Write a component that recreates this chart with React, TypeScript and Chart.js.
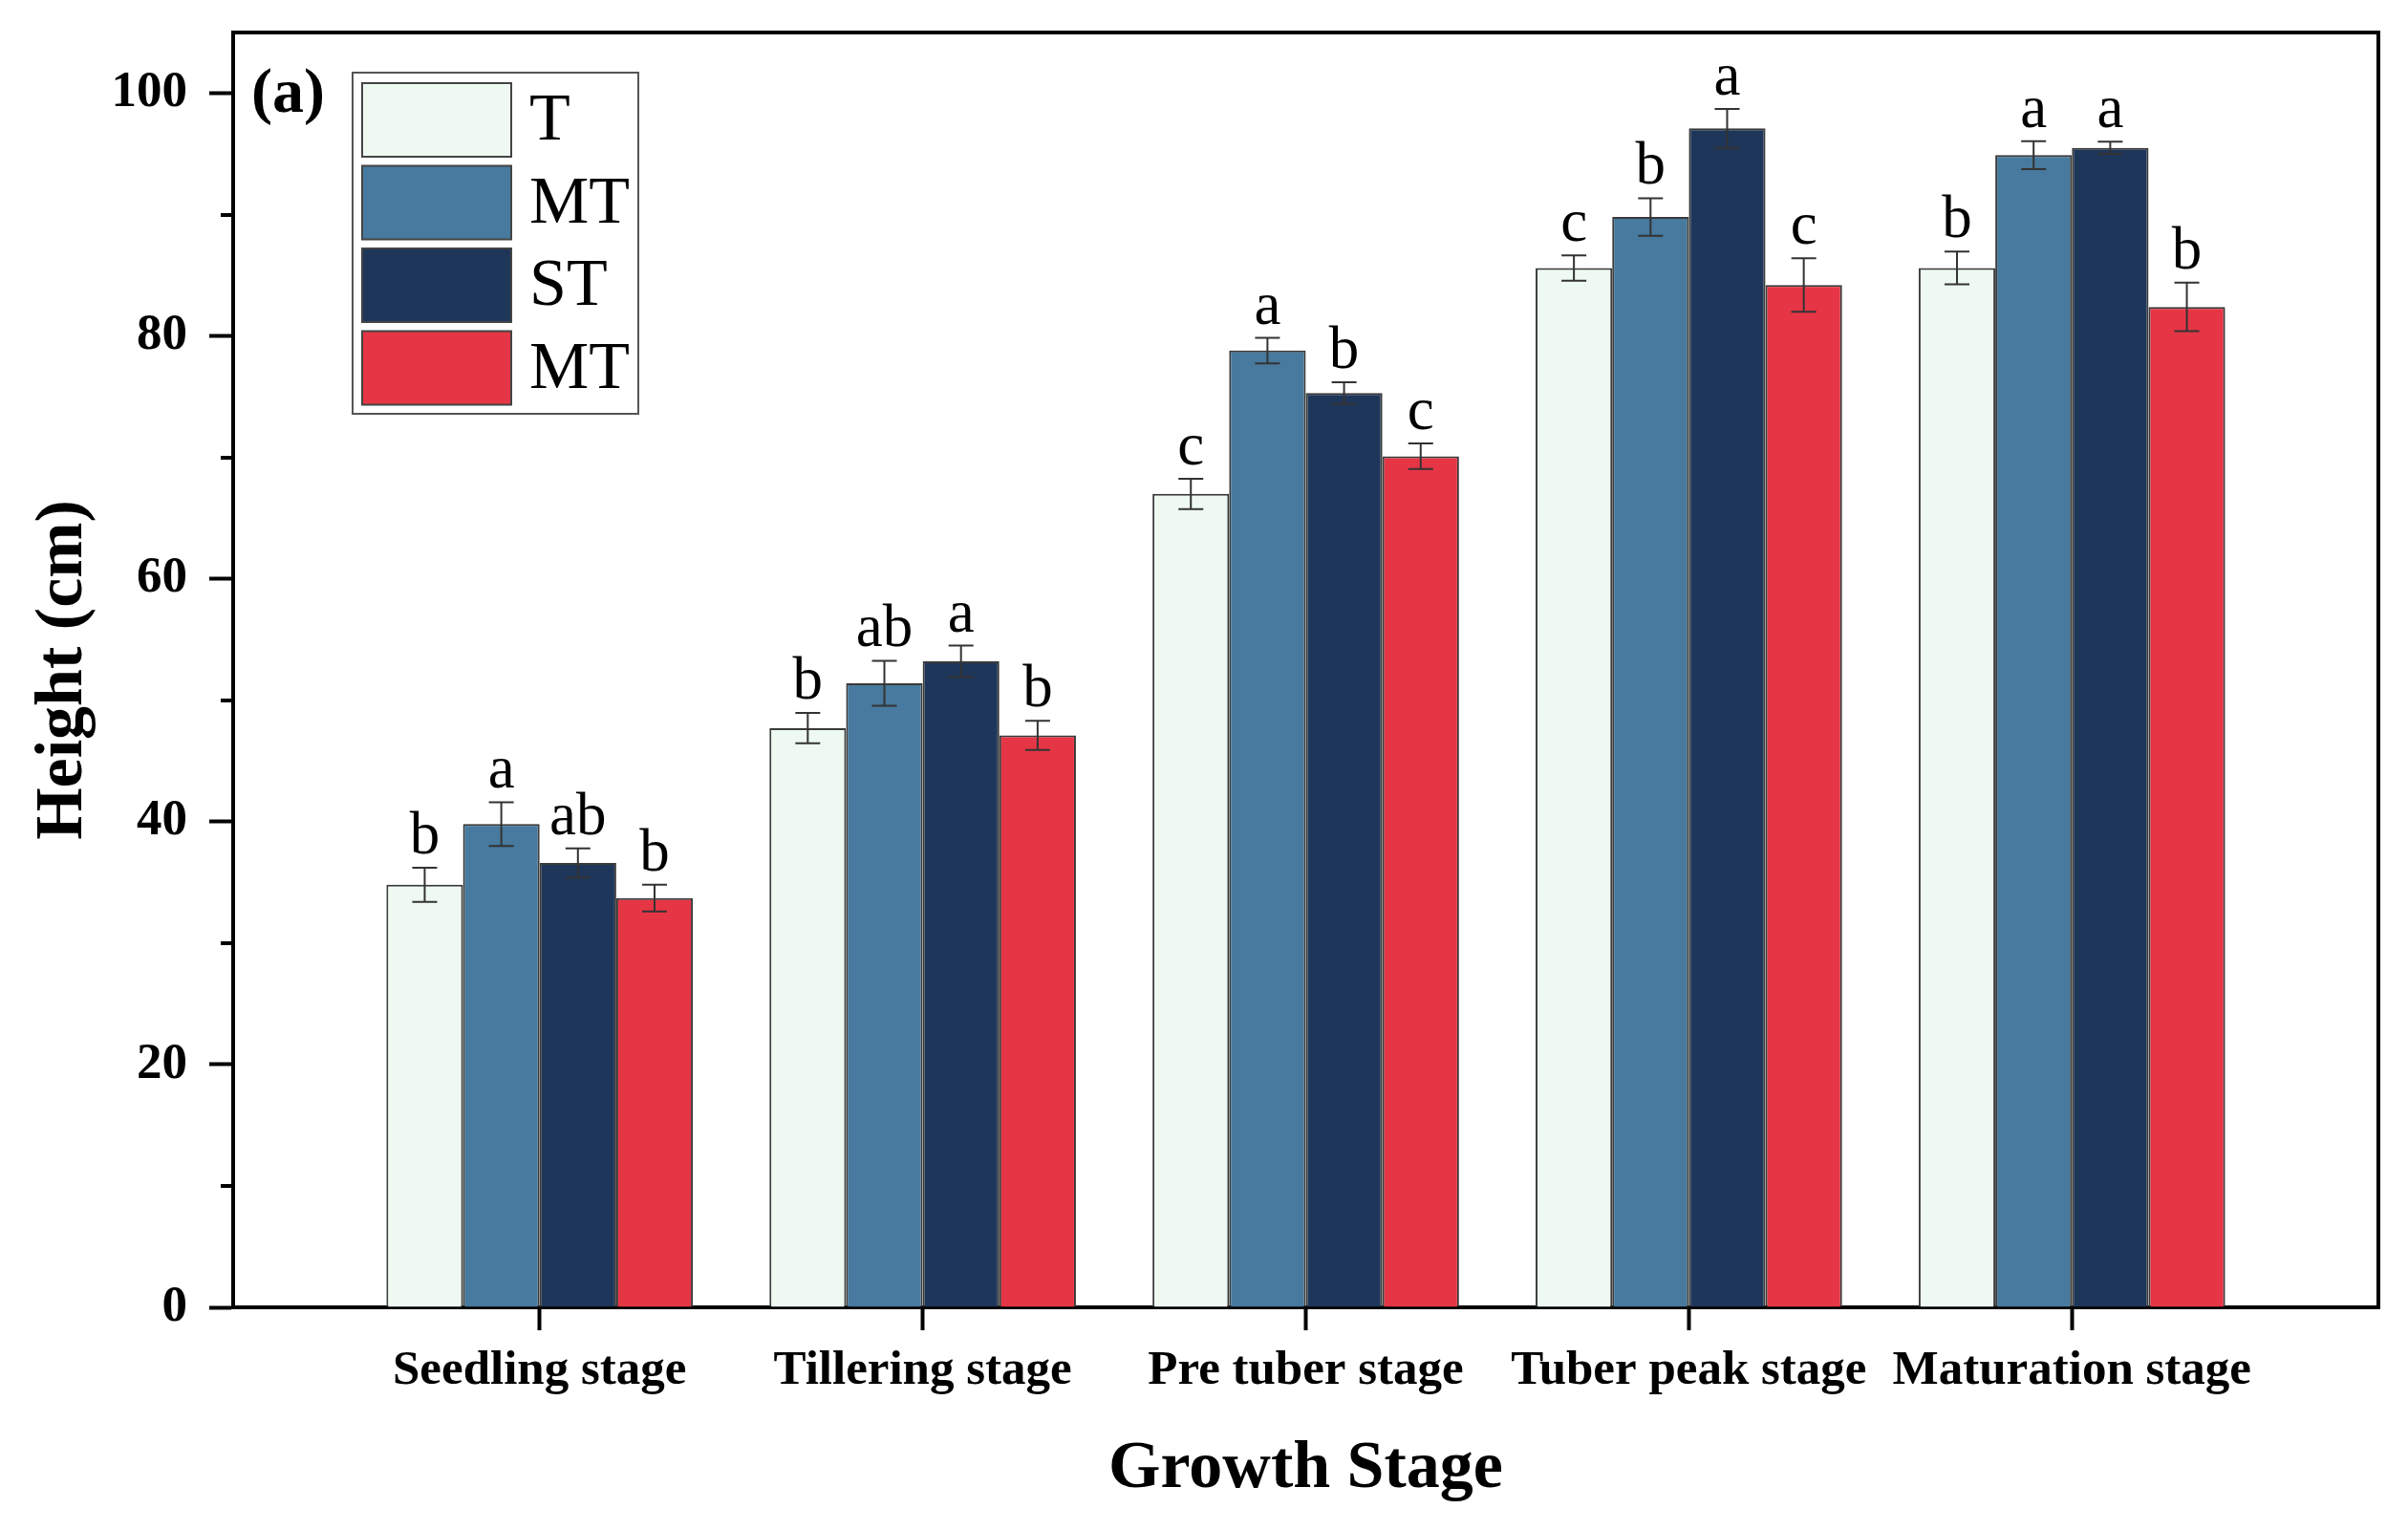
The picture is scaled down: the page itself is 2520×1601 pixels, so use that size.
import React, { useEffect, useRef } from "react";
import { Chart, registerables } from "chart.js";

Chart.register(...registerables);

// ---------- data ----------
const categories = [
  "Seedling stage",
  "Tillering stage",
  "Pre tuber stage",
  "Tuber peak stage",
  "Maturation stage",
];
const seriesNames = ["T", "MT", "ST", "MT"];

const valuesT = [34.8, 47.7, 67.0, 85.6, 85.6];
const valuesMT = [39.8, 51.4, 78.8, 89.8, 94.9];
const valuesST = [36.6, 53.2, 75.3, 97.1, 95.5];
const valuesMT2 = [33.7, 47.1, 70.1, 84.2, 82.4];

const errT = [1.4, 1.25, 1.25, 1.05, 1.35];
const errMT = [1.8, 1.85, 1.05, 1.55, 1.15];
const errST = [1.2, 1.3, 0.9, 1.6, 0.5];
const errMT2 = [1.1, 1.2, 1.05, 2.2, 2.0];

const lettersT = ["b", "b", "c", "c", "b"];
const lettersMT = ["a", "ab", "a", "b", "a"];
const lettersST = ["ab", "a", "b", "a", "a"];
const lettersMT2 = ["b", "b", "c", "c", "b"];

const yTicks = [0, 20, 40, 60, 80, 100];
const yMinorTicks = [10, 30, 50, 70, 90];

const colors = ["#EEFAF1", "#477A9E", "#1E365A", "#E63545"];

const allValues = [valuesT, valuesMT, valuesST, valuesMT2];
const allErrs = [errT, errMT, errST, errMT2];
const allLetters = [lettersT, lettersMT, lettersST, lettersMT2];

const FONT = "'Liberation Serif', 'Times New Roman', serif";

const decorPlugin = {
  id: "decor",
  afterDatasetsDraw(chart: any) {
    const ctx = chart.ctx;
    const y = chart.scales.y;
    ctx.save();
    chart.data.datasets.forEach((ds: any, di: number) => {
      const meta = chart.getDatasetMeta(di);
      meta.data.forEach((bar: any, i: number) => {
        const v = allValues[di][i];
        const e = allErrs[di][i];
        const x = bar.x;
        const yt = y.getPixelForValue(v + e);
        const yb = y.getPixelForValue(v - e);
        ctx.strokeStyle = "#333333";
        ctx.lineWidth = 2;
        ctx.beginPath();
        ctx.moveTo(x, yt);
        ctx.lineTo(x, yb);
        ctx.moveTo(x - 13, yt);
        ctx.lineTo(x + 13, yt);
        ctx.moveTo(x - 13, yb);
        ctx.lineTo(x + 13, yb);
        ctx.stroke();
        ctx.fillStyle = "#000";
        ctx.font = `63px ${FONT}`;
        ctx.textAlign = "center";
        ctx.textBaseline = "alphabetic";
        ctx.fillText(allLetters[di][i], x, yt - 15);
      });
    });
    ctx.restore();
  },
  afterDraw(chart: any) {
    const ctx = chart.ctx;
    const { left, right, top, bottom } = chart.chartArea;
    const y = chart.scales.y;
    ctx.save();
    ctx.strokeStyle = "#000";
    ctx.lineWidth = 4;
    ctx.beginPath();
    ctx.moveTo(left - 2, top);
    ctx.lineTo(right, top);
    ctx.lineTo(right, bottom + 2);
    ctx.stroke();
    ctx.lineWidth = 4;
    ctx.beginPath();
    yMinorTicks.forEach((v) => {
      const py = Math.round(y.getPixelForValue(v));
      ctx.moveTo(left - 13, py);
      ctx.lineTo(left, py);
    });
    ctx.stroke();
    ctx.fillStyle = "#000";
    ctx.font = `bold 66px ${FONT}`;
    ctx.textAlign = "left";
    ctx.textBaseline = "middle";
    ctx.fillText("(a)", left + 19, top + 66);
    const bx = left + 125;
    const by = top + 42;
    const bw = 299;
    const bh = 357;
    ctx.strokeStyle = "#555555";
    ctx.lineWidth = 2;
    ctx.strokeRect(bx, by, bw, bh);
    chart.data.datasets.forEach((ds: any, di: number) => {
      const sy = by + 11 + di * 86.5;
      ctx.fillStyle = ds.backgroundColor;
      ctx.fillRect(bx + 10, sy, 156, 77);
      ctx.strokeStyle = "#444444";
      ctx.lineWidth = 2;
      ctx.strokeRect(bx + 10, sy, 156, 77);
      ctx.fillStyle = "#000";
      ctx.font = `70px ${FONT}`;
      ctx.textAlign = "left";
      ctx.textBaseline = "middle";
      ctx.fillText(ds.label, bx + 185, sy + 41);
    });
    ctx.restore();
  },
};

export default function App() {
  const canvasRef = useRef<HTMLCanvasElement | null>(null);

  useEffect(() => {
    document.body.style.margin = "0";
    const canvas = canvasRef.current;
    if (!canvas) return;
    const datasets = seriesNames.map((name, di) => ({
      label: name,
      data: categories.map((_, i) => ({ x: i, y: allValues[di][i] })),
      backgroundColor: colors[di],
      borderColor: "#3a3a3a",
      borderWidth: 2,
      borderSkipped: "bottom" as const,
      categoryPercentage: 0.8,
      barPercentage: 1.0,
    }));
    const chart = new Chart(canvas, {
      type: "bar",
      data: { datasets },
      plugins: [decorPlugin],
      options: {
        animation: false,
        responsive: false,
        devicePixelRatio: 1,
        layout: { padding: { left: 0, top: 34, right: 31, bottom: 0 } },
        plugins: {
          legend: { display: false },
          tooltip: { enabled: false },
        },
        scales: {
          x: {
            type: "linear",
            min: -0.8,
            max: 4.8,
            offset: false,
            afterBuildTicks: (scale: any) => {
              scale.ticks = categories.map((_, i) => ({ value: i }));
            },
            afterFit: (scale: any) => {
              scale.height = 233;
              scale.paddingLeft = 0;
              scale.paddingRight = 0;
            },
            ticks: {
              autoSkip: false,
              maxRotation: 0,
              padding: 12,
              color: "#000",
              font: { family: FONT, size: 51, weight: "bold" },
              callback: (value: any) => categories[value as number] ?? "",
            },
            grid: {
              display: true,
              offset: false,
              drawOnChartArea: false,
              drawTicks: true,
              tickLength: 24,
              tickWidth: 4,
              tickColor: "#000",
            },
            border: { display: true, width: 4, color: "#000" },
            title: {
              display: true,
              text: "Growth Stage",
              color: "#000",
              font: { family: FONT, size: 70, weight: "bold" },
              padding: 21,
            },
          },
          y: {
            type: "linear",
            min: 0,
            max: 105,
            afterBuildTicks: (scale: any) => {
              scale.ticks = yTicks.map((v) => ({ value: v }));
            },
            afterFit: (scale: any) => {
              scale.width = 244;
              scale.paddingTop = 0;
              scale.paddingBottom = 0;
            },
            ticks: {
              padding: 23,
              color: "#000",
              font: { family: FONT, size: 53, weight: "bold" },
            },
            grid: {
              display: true,
              drawOnChartArea: false,
              drawTicks: true,
              tickLength: 25,
              tickWidth: 4,
              tickColor: "#000",
            },
            border: { display: true, width: 4, color: "#000" },
            title: {
              display: true,
              text: "Height (cm)",
              color: "#000",
              font: { family: FONT, size: 70, weight: "bold" },
              padding: 25,
            },
          },
        },
      },
    });
    return () => chart.destroy();
  }, []);

  return (
    <div style={{ width: 2520, height: 1601, background: "#fff" }}>
      <canvas ref={canvasRef} width={2520} height={1601} style={{ display: "block" }} />
    </div>
  );
}
